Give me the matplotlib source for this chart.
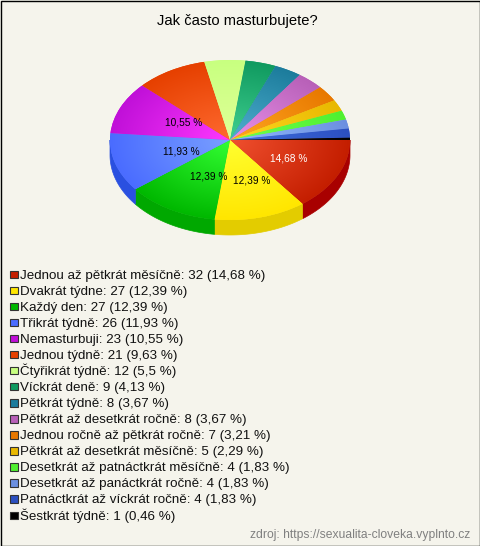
import numpy as np
import matplotlib
matplotlib.use('Agg')
import matplotlib.pyplot as plt
from matplotlib.colors import to_rgb
from matplotlib.patches import Polygon, Rectangle

labels = ['Jednou až pětkrát měsíčně', 'Dvakrát týdne', 'Každý den', 'Třikrát týdně',
          'Nemasturbuji', 'Jednou týdně', 'Čtyřikrát týdně', 'Víckrát deně', 'Pětkrát týdně',
          'Pětkrát až desetkrát ročně', 'Jednou ročně až pětkrát ročně',
          'Pětkrát až desetkrát měsíčně', 'Desetkrát až patnáctkrát měsíčně',
          'Desetkrát až panáctkrát ročně', 'Patnáctkrát až víckrát ročně', 'Šestkrát týdně']
counts = [32, 27, 27, 26, 23, 21, 12, 9, 8, 8, 7, 5, 4, 4, 4, 1]
percents = ['14,68', '12,39', '12,39', '11,93', '10,55', '9,63', '5,5', '4,13', '3,67',
            '3,67', '3,21', '2,29', '1,83', '1,83', '1,83', '0,46']
edge_colors = ['#c41e00', '#ffe600', '#00b800', '#4a6cff', '#c010d8', '#e64000', '#c8ff80', '#109a60',
               '#1c7c9c', '#b860b8', '#e87800', '#e8b800', '#50f030', '#6c90e0', '#2c50c0', '#000000']
center_colors = ['#f0502f', '#ffff30', '#33ff33', '#7aa0ff', '#ff38ff', '#ff6a30', '#e0ff98', '#40d090',
                 '#50b0d0', '#e890e8', '#ffa820', '#ffd820', '#70ff50', '#90b8ff', '#4070e0', '#301010']
side_colors = ['#a80000', '#e3cc00', '#00a800', '#2a50e0']
bg = '#f5f4ec'

plt.rcParams['font.family'] = ['Liberation Sans', 'DejaVu Sans']

W, H = 480, 546
cx, cy, rx, ry, depth = 230, 140, 120, 80, 15

fig = plt.figure(figsize=(W / 100, H / 100), dpi=100, facecolor=bg)
ax = fig.add_axes([0, 0, 1, 1])
ax.set_xlim(0, W)
ax.set_ylim(H, 0)
ax.axis('off')
ax.add_patch(Rectangle((0.5, 0.5), W - 1, H - 1, fill=False, ec='black', lw=1, zorder=10))

# 3d side of the pie, only the front half shows
total = sum(counts)
ends = np.cumsum(counts) / total * 360
starts = ends - np.array(counts) / total * 360
for i in range(len(counts)):
    if starts[i] >= 180:
        continue
    t = np.radians(np.linspace(starts[i], min(ends[i], 180), 60))
    x = cx + rx * np.cos(t)
    y = cy + ry * np.sin(t)
    pts = np.r_[np.c_[x, y], np.c_[x, y + depth][::-1]]
    ax.add_patch(Polygon(pts, fc=side_colors[i], ec=side_colors[i], lw=0.5))

# top of the pie in its own axes, stretched to an ellipse
pie_ax = fig.add_axes([(cx - rx) / W, 1 - (cy + ry) / H, 2 * rx / W, 2 * ry / H])
wedges, _ = pie_ax.pie(counts, colors=edge_colors, startangle=0, counterclock=False, radius=1,
                       center=(0, 0), frame=False)
pie_ax.set_aspect('auto')

n = 300
gx, gy = np.meshgrid(np.linspace(-1, 1, n), np.linspace(1, -1, n))
rad = np.clip(np.hypot(gx, gy), 0, 1)[..., None]
for w, c1, c2 in zip(wedges, center_colors, edge_colors):
    img = np.array(to_rgb(c1)) * (1 - rad) + np.array(to_rgb(c2)) * rad
    im = pie_ax.imshow(img, extent=(-1, 1, -1, 1), aspect='auto', zorder=2, interpolation='bilinear')
    im.set_clip_path(w)
pie_ax.set_xlim(-1, 1)
pie_ax.set_ylim(-1, 1)
pie_ax.axis('off')

# overlay so the labels sit on top of the pie
top = fig.add_axes([0, 0, 1, 1])
top.set_xlim(0, W)
top.set_ylim(H, 0)
top.axis('off')

# percent labels, only the big slices have one
mids = np.radians((starts + ends) / 2)
for i in range(len(counts)):
    if counts[i] < 23:
        continue
    top.text(cx + 7 + 58 * np.cos(mids[i]), cy + 42 * np.sin(mids[i]), percents[i] + ' %',
             fontsize=7.3, ha='center', va='center',
             color='white' if i == 0 else 'black')

top.text(237, 25, 'Jak často masturbujete?', fontsize=10.6, ha='center', va='baseline', color='black')

# legend rows
for i, lab in enumerate(labels):
    y = 278.5 + i * 16.07
    top.add_patch(Rectangle((9.5, y - 8), 8, 7.5, fc=edge_colors[i], ec='#333333', lw=0.8))
    top.text(20, y, f'{lab}: {counts[i]} ({percents[i]} %)', fontsize=9.6, ha='left', va='baseline',
             color='#111111')

top.text(470, 538, 'zdroj: https://sexualita-cloveka.vyplnto.cz', fontsize=8.7, ha='right', va='baseline',
         color='#808080')

fig.savefig('out.png', dpi=100, facecolor=bg)
